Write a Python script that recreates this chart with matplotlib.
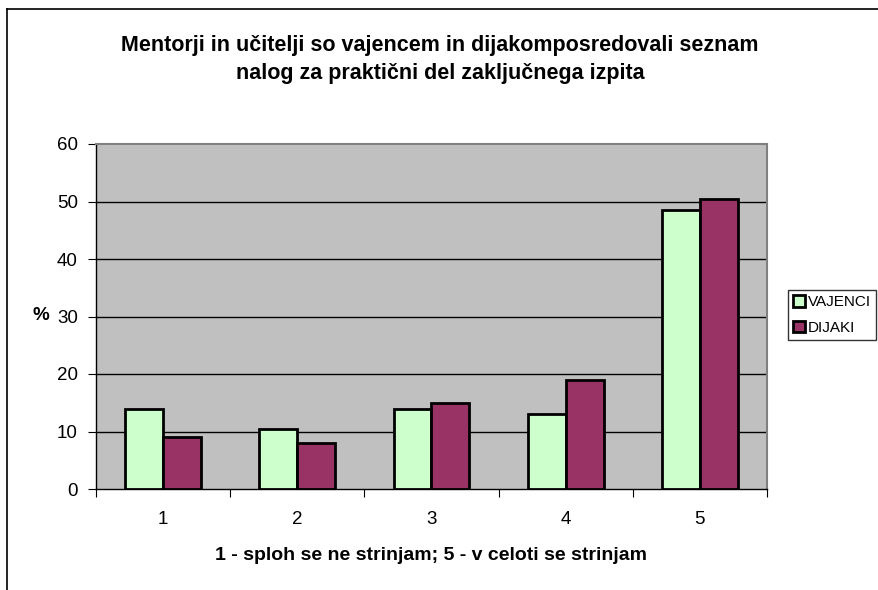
import matplotlib.pyplot as plt
from matplotlib.lines import Line2D
import numpy as np

plt.rcParams['font.family'] = ['Liberation Sans', 'DejaVu Sans']

categories = ["1", "2", "3", "4", "5"]
vajenci = [14, 10.5, 14, 13, 48.5]
dijaki = [9, 8, 15, 19, 50.4]
yticks = [0, 10, 20, 30, 40, 50, 60]

fig = plt.figure(figsize=(8.79, 5.90), dpi=100)
# outer chart border (only top and left are visible in the picture)
fx0, fy1 = 7 / 879, 1 - 9 / 590
fig.add_artist(Line2D([fx0, 1.0], [fy1, fy1], transform=fig.transFigure, color='black', linewidth=1.2))
fig.add_artist(Line2D([fx0, fx0], [0.0, fy1], transform=fig.transFigure, color='black', linewidth=1.2))

ax = fig.add_axes([96 / 879, 1 - 489 / 590, 671 / 879, 345 / 590])
ax.set_facecolor('#c0c0c0')

x = np.arange(len(categories))
w = 0.283
ax.bar(x - w / 2, vajenci, w, color='#ccffcc', edgecolor='black', linewidth=2, label='VAJENCI', zorder=3)
ax.bar(x + w / 2, dijaki, w, color='#993366', edgecolor='black', linewidth=2, label='DIJAKI', zorder=3)

ax.set_xlim(-0.5, len(categories) - 0.5)
ax.set_ylim(0, 60)
ax.set_yticks(yticks)
ax.set_yticklabels([str(v) for v in yticks], fontsize=13.5)
for v in yticks[1:-1]:
    ax.axhline(v, color='black', linewidth=1, zorder=1)

ax.set_xticks(np.arange(-0.5, len(categories)), minor=False)
ax.set_xticklabels([])
ax.set_xticks(x, minor=True)
ax.set_xticklabels(categories, minor=True, fontsize=13.5)
ax.tick_params(axis='x', which='minor', length=0, pad=16)
ax.tick_params(axis='x', which='major', length=6, direction='out')
ax.tick_params(axis='y', length=6, direction='out', pad=7)

for s in ['top', 'right']:
    ax.spines[s].set_color('#808080')
    ax.spines[s].set_linewidth(1.5)
ax.spines['left'].set_linewidth(1)
ax.spines['bottom'].set_linewidth(1)

fig.text(440 / 879, 1 - 45 / 590, "Mentorji in učitelji so vajencem in dijakomposredovali seznam",
         ha='center', va='center', fontsize=15.5, fontweight='bold')
fig.text(440 / 879, 1 - 73 / 590, "nalog za praktični del zaključnega izpita",
         ha='center', va='center', fontsize=15.5, fontweight='bold')
fig.text(431 / 879, 1 - 556 / 590, "1 - sploh se ne strinjam; 5 - v celoti se strinjam",
         ha='center', va='center', fontsize=14, fontweight='bold')
fig.text(41 / 879, 1 - 316 / 590, "%", ha='center', va='center', fontsize=13.5, fontweight='bold')

leg = fig.legend(loc='upper left', bbox_to_anchor=(788 / 879, 1 - 290 / 590), fontsize=11,
                 frameon=True, fancybox=False, edgecolor='black', handlelength=0.75, handleheight=0.75,
                 handletextpad=0.2, borderpad=0.35, labelspacing=0.75, borderaxespad=0)
leg.get_frame().set_linewidth(1)

fig.savefig('out.png', dpi=100)
